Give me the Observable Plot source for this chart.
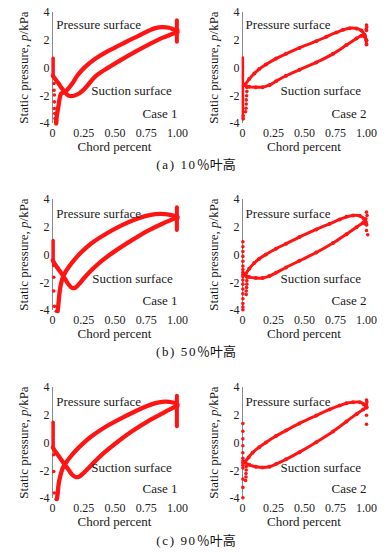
<!DOCTYPE html>
<html><head><meta charset="utf-8">
<script src="https://cdn.jsdelivr.net/npm/d3@7"></script>
<script src="https://cdn.jsdelivr.net/npm/@observablehq/plot@0.6"></script>
<style>
html,body{margin:0;padding:0;background:#fff;}
#root{position:relative;width:387px;height:552px;overflow:hidden;}
.panel{position:absolute;}
.panel svg, .panel svg text{font-family:"Liberation Serif","Times New Roman",serif !important;}
.cap{position:absolute;transform:translate(-50%,-50%);font-size:13px;white-space:nowrap;font-family:"Liberation Serif","Noto Sans CJK SC",serif;color:#111;}
.cap .lat{letter-spacing:1.6px;}
</style></head><body><div id="root"></div><script>
// ---------- data ----------
const xTicks = [0, 0.25, 0.5, 0.75, 1];
const yTicks = [-4, -2, 0, 2, 4];
const captionLetters = ["(a) 10", "(b) 50", "(c) 90"];
const captionTail = "％叶高";
const caseNames = ["Case 1", "Case 2"];

// 10% span, Case 1
const p1Pressure = [[0.03,-4.0],[0.035,-3.4],[0.049,-2.68],[0.057,-2.2],[0.07,-1.84],[0.10,-1.72],[0.13,-1.45],[0.158,-1.12],[0.198,-0.56],[0.253,0.01],[0.334,0.61],[0.443,1.21],[0.579,1.84],[0.688,2.32],[0.769,2.68],[0.823,2.87],[0.878,2.94],[0.932,2.9],[0.973,2.77],[1.0,2.73]];
const p1Suction = [[0.003,-0.56],[0.022,-0.8],[0.049,-1.12],[0.076,-1.48],[0.103,-1.77],[0.13,-2.0],[0.171,-2.0],[0.212,-1.84],[0.253,-1.53],[0.293,-1.12],[0.348,-0.57],[0.443,0.01],[0.552,0.61],[0.66,1.17],[0.769,1.69],[0.878,2.17],[0.96,2.46],[1.0,2.6]];
const p1LeSpike = [[0.005,0.7],[0.005,-0.55]];
const p1LeDots = [[0.012,-1.12],[0.012,-1.6],[0.015,-1.95],[0.015,-2.44],[0.015,-2.92],[0.018,-3.28],[0.02,-3.64],[0.025,-3.88]];
const p1TeSpike = [[0.995,3.45],[0.995,1.9]];
const p1TeDots = [];

// 10% span, Case 2
const p2Pressure = [[0.022,-1.19],[0.054,-0.8],[0.095,-0.4],[0.135,-0.08],[0.189,0.25],[0.27,0.68],[0.351,1.02],[0.459,1.45],[0.595,1.93],[0.676,2.25],[0.757,2.56],[0.811,2.75],[0.865,2.87],[0.919,2.85],[0.959,2.7],[0.986,2.37],[1.0,1.7]];
const p2Suction = [[0.014,-1.24],[0.054,-1.36],[0.108,-1.38],[0.162,-1.38],[0.216,-1.24],[0.27,-0.95],[0.351,-0.56],[0.459,-0.13],[0.595,0.4],[0.73,1.02],[0.838,1.65],[0.919,2.13],[0.959,2.32],[0.986,2.25],[1.0,2.0]];
const p2LeSpike = [[0.003,0.75],[0.003,-3.7]];
const p2LeDots = [[0.035,-1.4],[0.035,-1.7],[0.033,-2.0],[0.03,-2.3],[0.03,-2.6],[0.028,-2.9],[0.025,-3.15],[0.006,-3.45],[0.006,-3.65]];
const p2TeSpike = [];
const p2TeDots = [[1.0,3.1],[1.002,2.95],[0.998,2.8],[1.0,2.7]];

// 50% span, Case 1
const p3Pressure = [[0.041,-4.05],[0.049,-3.39],[0.057,-2.67],[0.068,-2.07],[0.084,-1.59],[0.103,-1.23],[0.13,-0.87],[0.171,-0.39],[0.226,0.16],[0.307,0.81],[0.416,1.46],[0.552,2.13],[0.66,2.56],[0.742,2.8],[0.823,2.94],[0.905,2.94],[0.959,2.85],[1.0,2.73]];
const p3Suction = [[0.003,-0.39],[0.022,-0.7],[0.049,-1.04],[0.076,-1.38],[0.103,-1.76],[0.13,-2.14],[0.158,-2.38],[0.185,-2.34],[0.212,-2.1],[0.253,-1.66],[0.307,-1.14],[0.389,-0.46],[0.497,0.26],[0.633,1.05],[0.769,1.77],[0.878,2.25],[0.973,2.61],[1.0,2.66]];
const p3LeSpike = [[0.005,1.05],[0.005,-0.4]];
const p3LeDots = [[0.01,-0.75],[0.01,-1.6],[0.01,-2.6],[0.015,-3.7],[0.03,-4.05]];
const p3TeSpike = [[0.995,3.45],[0.995,1.8]];
const p3TeDots = [];

// 50% span, Case 2
const p4Pressure = [[0.027,-1.35],[0.054,-0.99],[0.095,-0.58],[0.135,-0.27],[0.189,0.04],[0.27,0.45],[0.351,0.81],[0.459,1.29],[0.595,1.84],[0.703,2.25],[0.784,2.56],[0.838,2.75],[0.892,2.85],[0.946,2.82],[0.978,2.61],[1.0,2.18]];
const p4Suction = [[0.014,-1.42],[0.054,-1.59],[0.108,-1.66],[0.162,-1.66],[0.216,-1.52],[0.27,-1.28],[0.351,-0.9],[0.459,-0.42],[0.595,0.18],[0.73,0.86],[0.838,1.5],[0.919,2.0],[0.973,2.32],[0.995,2.37]];
const p4LeSpike = [];
const p4LeDots = [[0.003,0.95],[0.003,0.6],[0.003,0.25],[0.003,-0.1],[0.003,-0.45],[0.003,-0.8],[0.003,-1.05],[0.003,-1.25],[0.003,-1.4],[0.003,-1.55],[0.003,-1.8],[0.003,-2.1],[0.003,-2.45],[0.003,-2.8],[0.003,-3.15],[0.003,-3.5],[0.003,-3.75],[0.003,-3.95],[0.035,-1.6],[0.035,-1.85],[0.035,-2.1],[0.033,-2.35],[0.03,-2.6],[0.03,-2.85]];
const p4TeSpike = [];
const p4TeDots = [[1.0,3.09],[1.005,2.85],[0.995,2.61],[0.987,2.25],[1.0,1.77],[1.01,1.46]];

// 90% span, Case 1
const p5Pressure = [[0.035,-4.05],[0.041,-3.68],[0.049,-2.96],[0.063,-2.36],[0.082,-1.81],[0.109,-1.4],[0.144,-0.99],[0.185,-0.56],[0.239,-0.08],[0.307,0.45],[0.416,1.12],[0.552,1.79],[0.66,2.27],[0.742,2.61],[0.823,2.87],[0.878,2.97],[0.932,2.97],[0.973,2.9],[1.0,2.8]];
const p5Suction = [[0.003,-0.32],[0.022,-0.61],[0.049,-0.94],[0.076,-1.28],[0.103,-1.62],[0.13,-1.95],[0.158,-2.29],[0.185,-2.45],[0.212,-2.43],[0.239,-2.24],[0.28,-1.88],[0.334,-1.38],[0.416,-0.68],[0.524,0.11],[0.633,0.83],[0.769,1.6],[0.878,2.13],[0.959,2.51],[1.0,2.68]];
const p5LeSpike = [[0.005,1.5],[0.005,-0.3]];
const p5LeDots = [[0.01,-0.85],[0.01,-2.05],[0.015,-3.6],[0.03,-4.05]];
const p5TeSpike = [[0.995,3.4],[0.995,1.2]];
const p5TeDots = [];

// 90% span, Case 2
const p6Pressure = [[0.022,-1.33],[0.049,-1.04],[0.081,-0.7],[0.135,-0.3],[0.189,0.04],[0.27,0.5],[0.351,0.9],[0.459,1.41],[0.595,1.98],[0.703,2.42],[0.784,2.7],[0.838,2.87],[0.892,2.94],[0.946,2.94],[0.978,2.8],[1.0,2.56]];
const p6Suction = [[0.014,-1.4],[0.054,-1.57],[0.108,-1.71],[0.162,-1.76],[0.216,-1.71],[0.27,-1.52],[0.351,-1.18],[0.459,-0.66],[0.595,0.06],[0.73,0.83],[0.838,1.55],[0.919,2.08],[0.973,2.42],[1.0,2.56]];
const p6LeSpike = [];
const p6LeDots = [[0.003,1.4],[0.003,0.85],[0.003,0.3],[0.003,-0.2],[0.003,-0.7],[0.003,-1.1],[0.003,-1.3],[0.003,-1.45],[0.003,-1.6],[0.003,-1.8],[0.003,-2.6],[0.003,-3.2],[0.003,-3.95],[0.03,-1.7],[0.03,-1.95],[0.028,-2.2],[0.028,-2.45],[0.025,-2.7]];
const p6TeSpike = [];
const p6TeDots = [[1.0,3.1],[1.003,2.95],[0.998,2.8],[1.0,2.65],[1.0,2.0],[1.0,1.35]];

// text annotations [x, y, text] (left-anchored)
const labels1 = [[0.03,3.1,"Pressure surface"],[0.31,-1.67,"Suction surface"]];
const labels2 = [[0.025,3.1,"Pressure surface"],[0.306,-1.65,"Suction surface"]];
const labels3 = [[0.03,2.99,"Pressure surface"],[0.318,-1.74,"Suction surface"]];
const labels4 = [[0.025,2.99,"Pressure surface"],[0.306,-1.74,"Suction surface"]];
const labels5 = [[0.03,2.97,"Pressure surface"],[0.31,-1.77,"Suction surface"]];
const labels6 = [[0.025,2.97,"Pressure surface"],[0.306,-1.77,"Suction surface"]];
const caseY = [-3.27, -3.3, -3.32];

// ---------- drawing ----------
const RED = "#ff1414";
const FONT = "Liberation Serif, Times New Roman, serif";
const root = document.getElementById("root");
const fx = d => d[0], fy = d => d[1];
const rowTops = [0, 187, 375];
const cols = [{left: 0, width: 190, mr: 13}, {left: 190, width: 197, mr: 21}];
const ML = 52, MT = 12, PH = 111, MB = 30;

const panels = [
  {r:0,c:0,P:p1Pressure,S:p1Suction,ls:p1LeSpike,ld:p1LeDots,ts:p1TeSpike,td:p1TeDots,lab:labels1},
  {r:0,c:1,P:p2Pressure,S:p2Suction,ls:p2LeSpike,ld:p2LeDots,ts:p2TeSpike,td:p2TeDots,lab:labels2},
  {r:1,c:0,P:p3Pressure,S:p3Suction,ls:p3LeSpike,ld:p3LeDots,ts:p3TeSpike,td:p3TeDots,lab:labels3},
  {r:1,c:1,P:p4Pressure,S:p4Suction,ls:p4LeSpike,ld:p4LeDots,ts:p4TeSpike,td:p4TeDots,lab:labels4},
  {r:2,c:0,P:p5Pressure,S:p5Suction,ls:p5LeSpike,ld:p5LeDots,ts:p5TeSpike,td:p5TeDots,lab:labels5},
  {r:2,c:1,P:p6Pressure,S:p6Suction,ls:p6LeSpike,ld:p6LeDots,ts:p6TeSpike,td:p6TeDots,lab:labels6},
];

for (const p of panels) {
  const col = cols[p.c];
  const case1 = p.c === 0;
  const sw = case1 ? 4.3 : 3;
  const marks = [
    Plot.ruleX([0], {stroke: "#8a8a8a", strokeWidth: 1}),
    Plot.line(p.P, {x: fx, y: fy, stroke: RED, strokeWidth: sw, curve: "catmull-rom"}),
    Plot.line(p.S, {x: fx, y: fy, stroke: RED, strokeWidth: sw, curve: "catmull-rom"}),
  ];
  if (!case1) {
    marks.push(Plot.dot(p.P, {x: fx, y: fy, r: 2, fill: RED}));
    marks.push(Plot.dot(p.S, {x: fx, y: fy, r: 2, fill: RED}));
  }
  if (p.ls.length) marks.push(Plot.line(p.ls, {x: fx, y: fy, stroke: RED, strokeWidth: case1 ? 3.5 : 2.5}));
  if (p.ts.length) marks.push(Plot.line(p.ts, {x: fx, y: fy, stroke: RED, strokeWidth: 4}));
  marks.push(Plot.dot(p.ld, {x: fx, y: fy, r: 1.8, fill: RED}));
  marks.push(Plot.dot(p.td, {x: fx, y: fy, r: 1.8, fill: RED}));
  marks.push(Plot.text(p.lab, {x: fx, y: fy, text: d => d[2], textAnchor: "start", fontSize: 13, fontFamily: FONT, fill: "#1a1a1a"}));
  marks.push(Plot.text([[1.0, caseY[p.r], caseNames[p.c]]], {x: fx, y: fy, text: d => d[2], textAnchor: "end", fontSize: 13, fontFamily: FONT, fill: "#1a1a1a"}));

  const chart = Plot.plot({
    width: col.width, height: MT + PH + MB,
    marginTop: MT, marginBottom: MB, marginLeft: ML, marginRight: col.mr,
    style: {fontFamily: FONT, fontSize: "12px", color: "#222", background: "transparent", overflow: "visible"},
    x: {domain: [0, 1], ticks: xTicks, tickFormat: d => d === 0 ? "0" : d.toFixed(2), tickSize: 0, tickPadding: 5, label: null},
    y: {domain: [-4, 4], ticks: yTicks, tickFormat: d => String(d), tickSize: 0, tickPadding: 3, label: null},
    marks
  });
  const svg = d3.select(chart);
  svg.attr("font-family", FONT).style("font-family", FONT);
  const pw = col.width - ML - col.mr;
  const yl = svg.append("text")
    .attr("transform", `translate(${ML - 29},${MT + PH / 2}) rotate(-90)`)
    .attr("text-anchor", "middle").attr("dy", "0.35em")
    .style("font-size", "13px").attr("fill", "#1a1a1a");
  yl.append("tspan").text("Static pressure, ");
  yl.append("tspan").style("font-style", "italic").text("p");
  yl.append("tspan").text("/kPa");
  svg.append("text")
    .attr("x", ML + pw / 2).attr("y", MT + PH + 23.5).attr("dy", "0.35em")
    .attr("text-anchor", "middle").style("font-size", "13px").attr("fill", "#1a1a1a")
    .text("Chord percent");
  const div = document.createElement("div");
  div.className = "panel";
  div.style.left = col.left + "px";
  div.style.top = rowTops[p.r] + "px";
  div.appendChild(chart);
  root.appendChild(div);
}

const capY = [163, 350, 539];
captionLetters.forEach((t, i) => {
  const d = document.createElement("div");
  d.className = "cap";
  d.style.left = "196px";
  d.style.top = capY[i] + "px";
  const a = document.createElement("span");
  a.className = "lat";
  a.textContent = t;
  const b = document.createElement("span");
  b.textContent = captionTail;
  d.appendChild(a);
  d.appendChild(b);
  root.appendChild(d);
});
</script></body></html>
